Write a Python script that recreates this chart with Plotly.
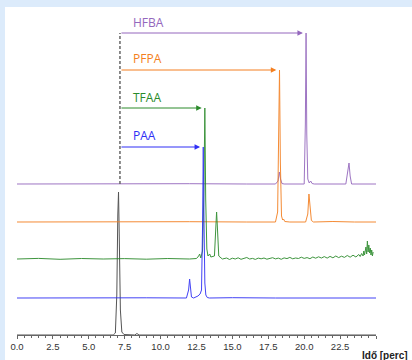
import numpy as np
import plotly.graph_objects as go

# ---------------- data (time in minutes, signal in arbitrary units above own baseline)
series_names = ["HFBA", "PFPA", "TFAA", "PAA"]
series_colors = ["#9467bd", "#f47f20", "#2a8a2a", "#2f2ff5"]
baseline_offsets = [151, 113, 76, 37]

blank_t = [0.0, 6.7, 6.85, 6.95, 7.02, 7.07, 7.12, 7.2, 7.3, 7.45, 8.2, 8.35, 8.5, 9.5, 25.0]
blank_v = [0.0, 0.0, 2.0, 40.0, 120.0, 143.0, 100.0, 25.0, 3.0, 0.5, 0.0, 1.5, 0.0, 0.0, 0.0]

paa_t = [0.0, 3.0, 6.0, 9.0, 11.8, 11.95, 12.02, 12.08, 12.15, 12.3, 12.6, 12.75, 12.85,
         12.92, 12.97, 13.02, 13.08, 13.15, 13.25, 13.4, 15.0, 18.0, 21.0, 25.0]
paa_v = [0.0, 0.3, 0.0, 0.2, 0.0, 8.0, 19.0, 9.0, 1.0, 0.0, 2.0, 4.0, 8.0,
         70.0, 151.0, 80.0, 15.0, 3.0, 0.5, 0.0, 0.3, 0.0, 0.2, 0.0]

tfaa_t = [0.0, 1.5, 3.0, 4.5, 6.0, 7.5, 9.0, 10.5, 12.0, 12.5, 12.65, 12.72, 12.8, 12.92,
          13.02, 13.08, 13.14, 13.22, 13.3, 13.42, 13.5, 13.75, 13.84, 13.9, 13.96, 14.05,
          14.3, 14.6, 14.8, 15.0, 15.2, 15.4, 15.6, 15.8, 16.0, 16.2, 16.4, 16.6, 16.8,
          17.0, 17.2, 17.4, 17.6, 17.8, 18.0, 18.2, 18.4, 18.6, 18.8, 19.0, 19.2, 19.4,
          19.6, 19.8, 20.0, 20.2, 20.4, 20.6, 20.8, 21.0, 21.2, 21.4, 21.6, 21.8, 22.0,
          22.2, 22.4, 22.6, 22.8, 23.0, 23.2, 23.4, 23.6, 23.8, 23.9, 24.0, 24.1, 24.15,
          24.2, 24.3, 24.35, 24.4, 24.45, 24.5, 24.55, 24.6, 24.65, 24.7, 24.75, 24.8]
tfaa_v = [0.0, 0.6, -0.3, 0.5, 0.0, 0.4, -0.2, 0.5, 0.0, 0.5, 3.0, 5.0, 1.0, 8.0,
          70.0, 151.0, 60.0, 10.0, 3.0, 5.0, 2.0, 3.0, 30.0, 47.0, 30.0, 3.0,
          0.0, 1.0, -0.5, 0.8, 0.0, 1.2, -0.3, 0.5, 1.5, 0.0, 0.6, -0.4, 0.9,
          0.2, 1.0, -0.2, 0.7, 1.3, 0.1, 0.9, -0.3, 1.1, 0.4, 1.6, 0.2, 1.0,
          0.5, 1.8, 0.6, 1.4, 0.3, 2.0, 0.8, 2.2, 1.0, 2.4, 0.9, 2.6, 1.2,
          3.0, 1.4, 2.8, 1.6, 3.5, 1.8, 3.8, 2.0, 4.5, 2.5, 5.5, 3.0, 8.0,
          4.0, 12.0, 5.0, 18.0, 7.0, 14.0, 6.0, 11.0, 4.0, 9.0, 3.0, 7.0]

pfpa_t = [0.0, 4.0, 8.0, 12.0, 16.0, 18.0, 18.15, 18.22, 18.28, 18.34, 18.42, 18.5,
          18.56, 18.65, 19.0, 20.1, 20.25, 20.33, 20.4, 20.5, 20.65, 22.0, 23.5, 25.0]
pfpa_v = [0.0, 0.3, 0.0, 0.3, 0.0, 0.0, 10.0, 80.0, 152.0, 60.0, 6.0, 2.0,
          3.0, 0.5, 0.0, 0.0, 8.0, 28.0, 14.0, 1.5, 0.0, 0.5, 0.0, 0.0]

hfba_t = [0.0, 4.0, 8.0, 12.0, 16.0, 18.0, 18.18, 18.27, 18.35, 18.45, 18.6, 20.0,
          20.08, 20.13, 20.18, 20.25, 20.35, 20.45, 20.55, 20.7, 22.9, 23.05, 23.12,
          23.2, 23.3, 25.0]
hfba_v = [0.0, 0.3, 0.0, 0.3, 0.0, 0.0, 3.0, 12.0, 5.0, 0.5, 0.0, 0.0,
          60.0, 151.0, 50.0, 5.0, 1.0, 3.0, 0.5, 0.0, 0.0, 12.0, 21.0, 8.0, 0.0, 0.0]

series_t = [hfba_t, pfpa_t, tfaa_t, paa_t]
series_v = [hfba_v, pfpa_v, tfaa_v, paa_v]

injection_time = 7.17
x_tick_vals = [0.0, 2.5, 5.0, 7.5, 10.0, 12.5, 15.0, 17.5, 20.0, 22.5]
x_tick_text = ["0.0", "2.5", "5.0", "7.5", "10.0", "12.5", "15.0", "17.5", "20.0", "22.5"]
x_title = "Idő [perc]"

# ---------------- figure
W, H = 412, 360
ML, MR, MT, MB = 17, 36, 7, 25
PW, PH = W - ML - MR, H - MT - MB

fig = go.Figure()

# blank (black) chromatogram
fig.add_trace(go.Scatter(x=blank_t, y=blank_v, mode="lines",
                         line=dict(color="#555555", width=1), hoverinfo="skip"))

label_y_gap = [11, 12, 11, 12]
for name, col, off, t, v in zip(series_names, series_colors, baseline_offsets, series_t, series_v):
    y = np.array(v) + off
    fig.add_trace(go.Scatter(x=t, y=y, mode="lines", line=dict(color=col, width=1),
                             hoverinfo="skip", opacity=0.9))

annotations = []
for i, (name, col, off, t, v) in enumerate(zip(series_names, series_colors, baseline_offsets, series_t, series_v)):
    k = int(np.argmax(v))
    tp, yp = t[k], v[k] + off
    annotations.append(dict(x=tp - 0.22, y=yp, ax=injection_time, ay=yp,
                            xref="x", yref="y", axref="x", ayref="y",
                            showarrow=True, arrowhead=2, arrowsize=1.1, arrowwidth=1,
                            arrowcolor=col, text=""))
    annotations.append(dict(x=injection_time + 0.8, y=yp + label_y_gap[i], xref="x", yref="y",
                            text=name, showarrow=False, xanchor="left", yanchor="middle",
                            font=dict(family="Open Sans", size=12, color=col)))

annotations.append(dict(x=(410 - ML) / PW, y=(MT + PH - 355) / PH, xref="paper", yref="paper",
                        text="<b>" + x_title + "</b>", showarrow=False, xanchor="right",
                        yanchor="middle", font=dict(family="Liberation Sans", size=10, color="#222")))

top_y = max(v[int(np.argmax(v))] + off for v, off in zip(series_v, baseline_offsets))
shapes = [
    dict(type="line", xref="x", yref="y", x0=injection_time, x1=injection_time,
         y0=baseline_offsets[0], y1=top_y, line=dict(color="#666666", width=1.5, dash="3px,2px")),
    dict(type="rect", xref="paper", yref="paper", x0=-ML / PW, x1=(W - ML) / PW,
         y0=1.0, y1=(PH + MT) / PH + 0.01, fillcolor="#dcebfb", line=dict(width=0), layer="below"),
    dict(type="rect", xref="paper", yref="paper", x0=-ML / PW, x1=(5 - ML) / PW,
         y0=-MB / PH - 0.01, y1=(PH + MT) / PH + 0.01, fillcolor="#dcebfb", line=dict(width=0), layer="below"),
]

fig.update_layout(
    width=W, height=H, margin=dict(l=ML, r=MR, t=MT, b=MB),
    paper_bgcolor="white", plot_bgcolor="white", showlegend=False,
    annotations=annotations, shapes=shapes,
    font=dict(family="Liberation Sans", color="#333"),
)
fig.update_xaxes(range=[0, 25], showgrid=False, zeroline=False, showline=True,
                 linecolor="#666", linewidth=1, ticks="outside", ticklen=3, tickcolor="#666",
                 tickvals=x_tick_vals + [25.0], ticktext=x_tick_text + [""],
                 tickfont=dict(size=9.5, color="#333", family="Liberation Sans"),
                 minor=dict(dtick=0.5, tick0=0, ticks="outside", ticklen=2, tickcolor="#666"))
fig.update_yaxes(range=[0, PH], visible=False, fixedrange=True)

fig.write_html("out.html", config={"displayModeBar": False},
               post_script="document.body.style.margin='0';document.body.style.overflow='hidden';")
